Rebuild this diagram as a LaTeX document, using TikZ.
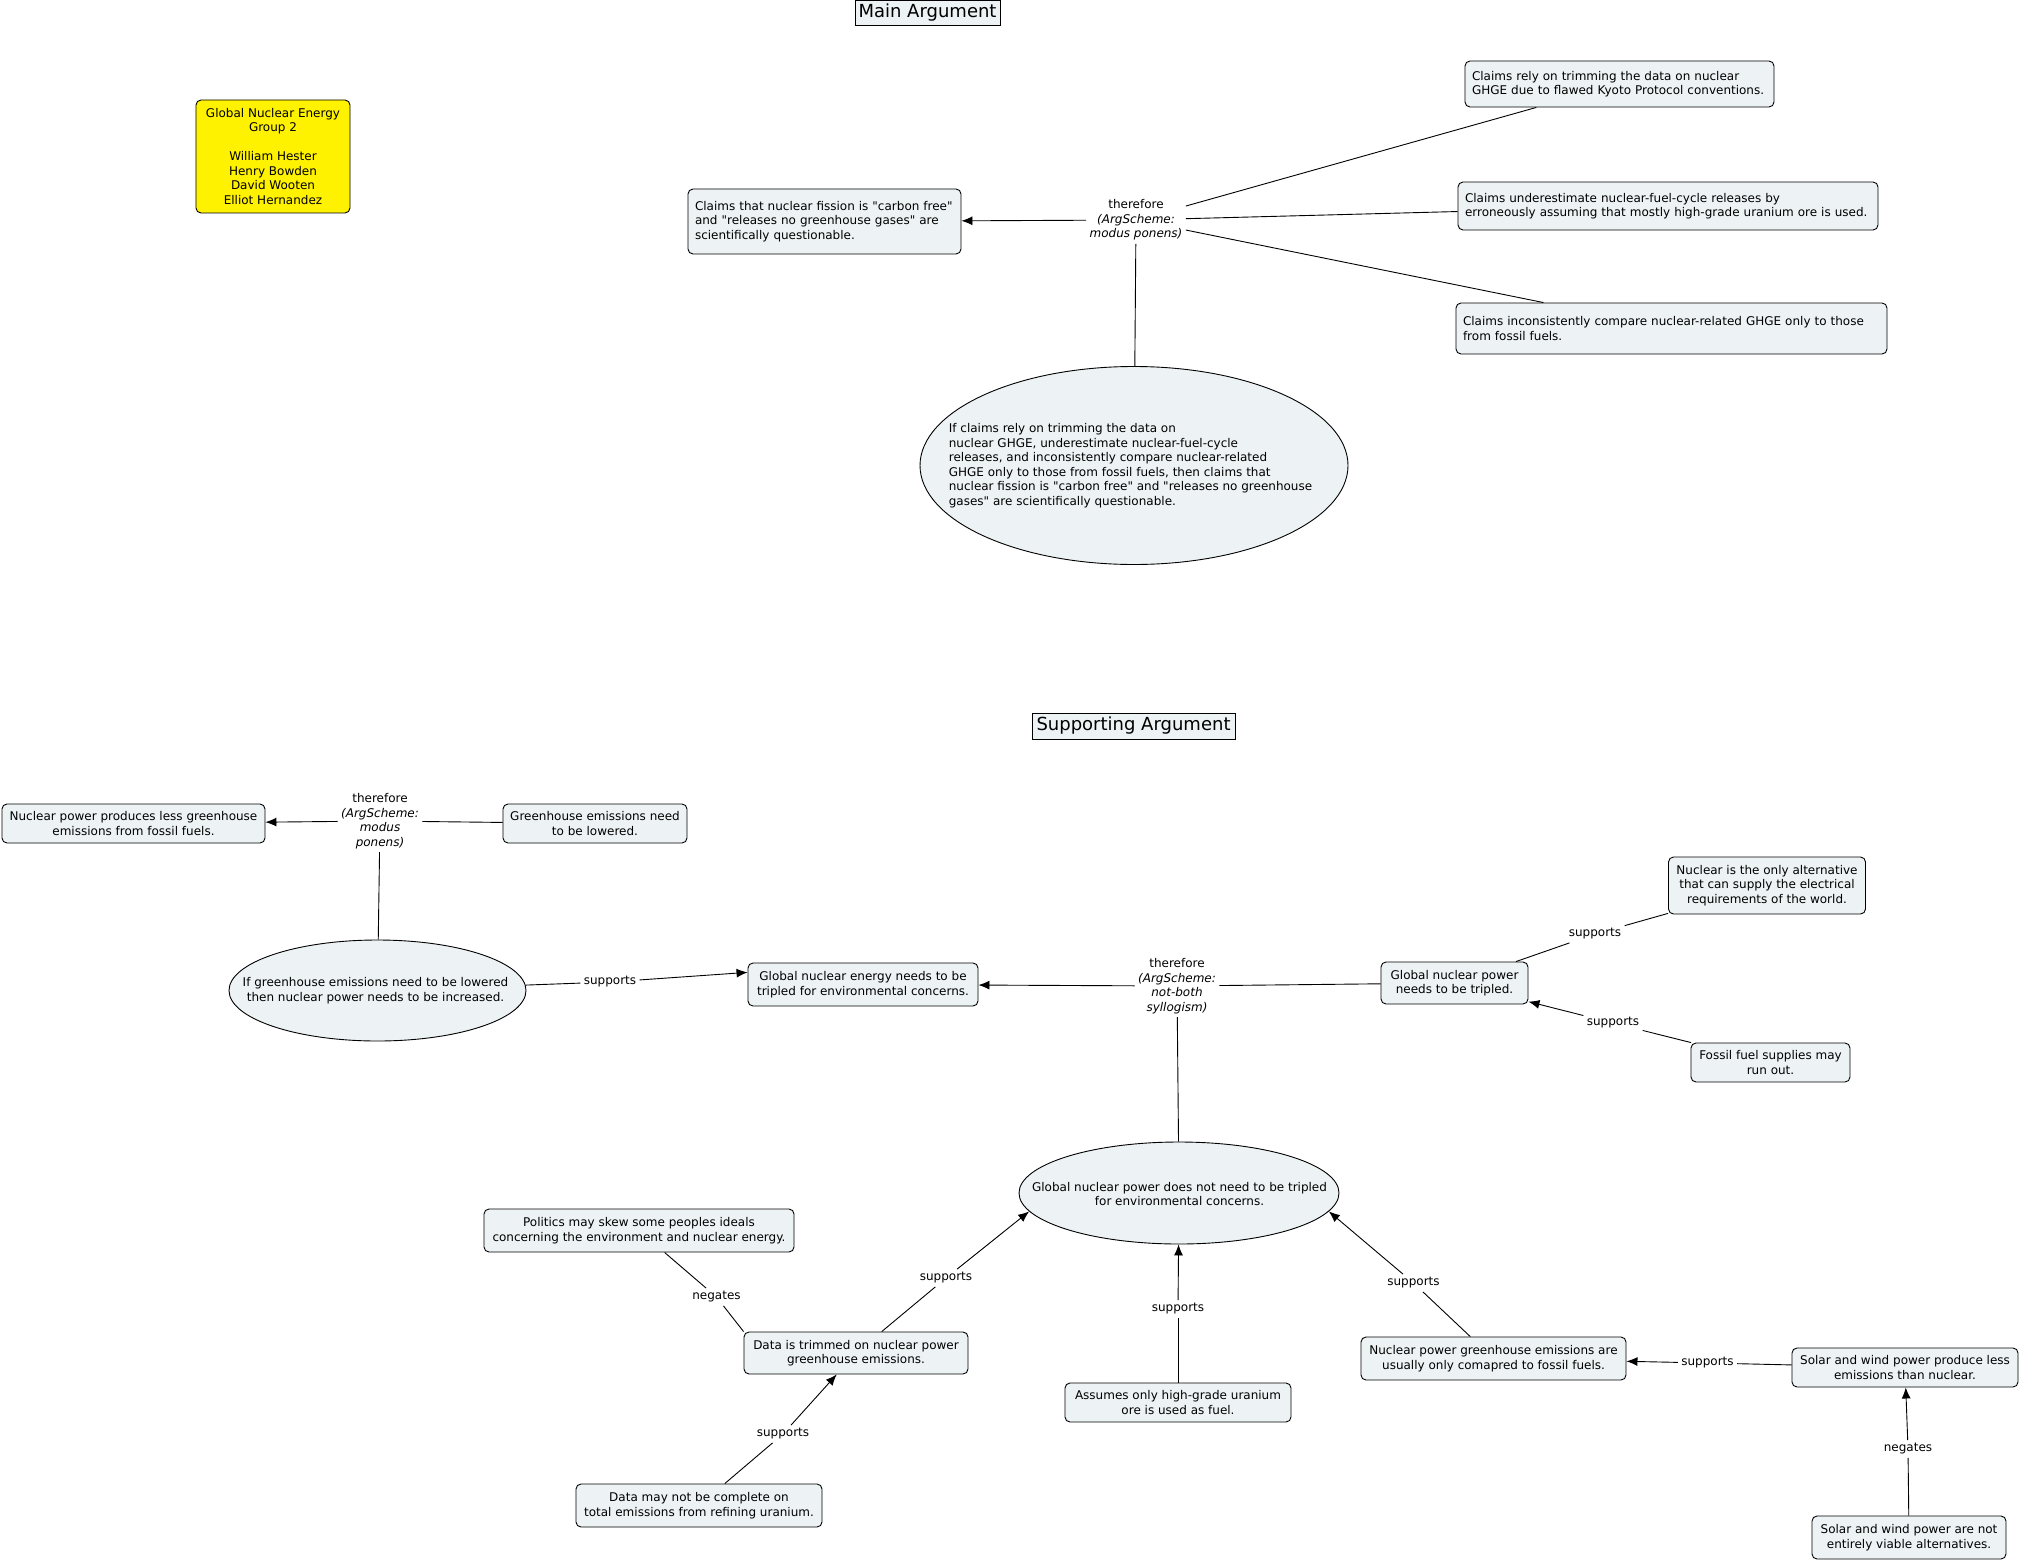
\documentclass[tikz,border=0pt]{standalone}
\usepackage{fontspec}
\setmainfont{DejaVu Sans}[Ligatures=TeXOff]
\usepackage{xcolor}
\usepackage{tikz}
\usetikzlibrary{calc, shapes.geometric, positioning, arrows.meta}

\definecolor{boxfill}{HTML}{EDF3F5}
\newcommand{\mapfont}{\fontsize{12}{14.5}\selectfont}

\begin{document}
\begin{tikzpicture}[>={Latex[length=11pt, width=9pt]}, x=1pt, y=-1pt, line width=0.9pt,
    concept/.style={draw, rounded corners=5pt, fill=boxfill, font=\mapfont, align=center, inner sep=2pt},
    claim/.style={concept, align=left, inner xsep=7pt},
    oval/.style={draw, ellipse, fill=boxfill, inner sep=0pt},
    heading/.style={draw, fill=boxfill, font=\fontsize{18}{20}\selectfont, inner sep=2pt},
    link/.style={font=\mapfont, inner sep=3pt},
    scheme/.style={font=\mapfont, align=center, inner sep=3pt}]
    \useasboundingbox (0,0) rectangle (2020,1562);

    % 1. Main Argument
    \node[heading, minimum width=145pt, minimum height=25pt] (mainhead) at (927.5,13) {Main Argument};
    \node[concept, fill=yellow, minimum width=154pt, minimum height=113pt] (group) at (273,156.5)
        {Global Nuclear Energy\\Group 2\\[14.5pt]William Hester\\Henry Bowden\\David Wooten\\Elliot Hernandez};

    \node[claim, text width=259pt, minimum height=65pt] (concl1) at (824.5,221.5)
        {Claims that nuclear fission is "carbon free"\\and "releases no greenhouse gases" are\\scientifically questionable.};
    \node[scheme] (tf1) at (1136,220) {therefore\\\textit{(ArgScheme:}\\\textit{modus ponens)}};
    \node[claim, text width=295pt, minimum height=46pt] (prem1) at (1619.5,84)
        {Claims rely on trimming the data on nuclear\\GHGE due to flawed Kyoto Protocol conventions.};
    \node[claim, text width=406pt, minimum height=48pt] (prem2) at (1668,206)
        {Claims underestimate nuclear-fuel-cycle releases by\\erroneously assuming that mostly high-grade uranium ore is used.};
    \node[claim, text width=417pt, minimum height=51pt] (prem3) at (1671.5,328.5)
        {Claims inconsistently compare nuclear-related GHGE only to those\\from fossil fuels.};
    \node[oval, minimum width=428pt, minimum height=198pt] (cond1) at (1134,465.5) {};
    \node[font=\mapfont, align=left] (cond1txt) at (1130.5,465.5)
        {If claims rely on trimming the data on\\nuclear GHGE, underestimate nuclear-fuel-cycle\\releases, and inconsistently compare nuclear-related\\GHGE only to those from fossil fuels, then claims that\\nuclear fission is "carbon free" and "releases no greenhouse\\gases" are scientifically questionable.};

    \draw[->] (tf1) -- (concl1);
    \foreach \p in {prem1, prem2, prem3, cond1} {
        \draw (tf1) -- (\p);
    }

    % 2. Supporting Argument
    \node[heading, minimum width=203pt, minimum height=26pt] (suphead) at (1133.5,726) {Supporting Argument};

    \node[concept, minimum width=263pt, minimum height=39pt] (lessghg) at (133.5,823.5)
        {Nuclear power produces less greenhouse\\emissions from fossil fuels.};
    \node[scheme] (tf2) at (380,821) {therefore\\\textit{(ArgScheme:}\\\textit{modus}\\\textit{ponens)}};
    \node[concept, minimum width=184pt, minimum height=39pt] (lower) at (595,823.5)
        {Greenhouse emissions need\\to be lowered.};
    \node[oval, minimum width=297pt, minimum height=101pt] (cond2) at (377.5,990.5) {};
    \node[font=\mapfont, align=center] (cond2txt) at (375.5,990.5)
        {If greenhouse emissions need to be lowered\\then nuclear power needs to be increased.};

    \draw[->] (tf2) -- (lessghg);
    \draw (tf2) -- (lower);
    \draw (tf2) -- (cond2);

    \node[concept, minimum width=230pt, minimum height=43pt] (triple) at (863,984.5)
        {Global nuclear energy needs to be\\tripled for environmental concerns.};
    \node[link] (sup1) at (610,982) {supports};
    \draw (cond2) -- (sup1);
    \draw[->] (sup1) -- (triple.174);

    \node[scheme] (tf3) at (1177,986) {therefore\\\textit{(ArgScheme:}\\\textit{not-both}\\\textit{syllogism)}};
    \node[concept, minimum width=147pt, minimum height=42pt] (power) at (1454.5,983)
        {Global nuclear power\\needs to be tripled.};
    \node[concept, minimum width=197pt, minimum height=57pt] (only) at (1767,885.5)
        {Nuclear is the only alternative\\that can supply the electrical\\requirements of the world.};
    \node[concept, minimum width=159pt, minimum height=39pt] (fossil) at (1770.5,1062.5)
        {Fossil fuel supplies may\\run out.};
    \node[oval, minimum width=320pt, minimum height=102pt] (cond3) at (1179,1193) {};
    \node[font=\mapfont, align=center] (cond3txt) at (1179.5,1194)
        {Global nuclear power does not need to be tripled\\for environmental concerns.};

    \draw[->] (tf3) -- (triple);
    \draw (tf3) -- (power);
    \draw (tf3) -- (cond3);

    \node[link] (sup2) at (1595,934) {supports};
    \draw (only) -- (sup2);
    \draw (sup2) -- (power);
    \node[link] (sup3) at (1613,1023) {supports};
    \draw (fossil) -- (sup3);
    \draw[->] (sup3) -- (power);

    % 3. Objections
    \node[concept, minimum width=310pt, minimum height=43pt] (politics) at (639,1230.5)
        {Politics may skew some peoples ideals\\concerning the environment and nuclear energy.};
    \node[concept, minimum width=224pt, minimum height=42pt] (trimmed) at (856,1353)
        {Data is trimmed on nuclear power\\greenhouse emissions.};
    \node[concept, minimum width=246pt, minimum height=43pt] (refining) at (699,1505.5)
        {Data may not be complete on\\total emissions from refining uranium.};
    \node[concept, minimum width=226pt, minimum height=39pt] (uranium) at (1178,1402.5)
        {Assumes only high-grade uranium\\ore is used as fuel.};
    \node[concept, minimum width=265pt, minimum height=43pt] (compare) at (1493.5,1358.5)
        {Nuclear power greenhouse emissions are\\usually only comapred to fossil fuels.};
    \node[concept, minimum width=226pt, minimum height=39pt] (solar) at (1905,1367.5)
        {Solar and wind power produce less\\emissions than nuclear.};
    \node[concept, minimum width=194pt, minimum height=43pt] (viable) at (1909,1537.5)
        {Solar and wind power are not\\entirely viable alternatives.};

    \node[link] (neg1) at (716.5,1297) {negates};
    \draw (politics) -- (neg1);
    \draw (neg1) -- (trimmed.north west);
    \node[link] (sup4) at (946,1278) {supports};
    \draw (trimmed) -- (sup4);
    \draw[->] (sup4) -- (cond3.187);
    \node[link] (sup5) at (783,1434) {supports};
    \draw (refining) -- (sup5);
    \draw[->] (sup5) -- (trimmed);
    \node[link] (sup6) at (1178,1309) {supports};
    \draw (uranium) -- (sup6);
    \draw[->] (sup6) -- (cond3);
    \node[link] (sup7) at (1413.5,1283) {supports};
    \draw (compare) -- (sup7);
    \draw[->] (sup7) -- (cond3.-7);
    \node[link] (sup8) at (1707.5,1363) {supports};
    \draw (solar) -- (sup8);
    \draw[->] (sup8) -- (compare);
    \node[link] (neg2) at (1908,1449) {negates};
    \draw (viable) -- (neg2);
    \draw[->] (neg2) -- (solar);
\end{tikzpicture}
\end{document}
